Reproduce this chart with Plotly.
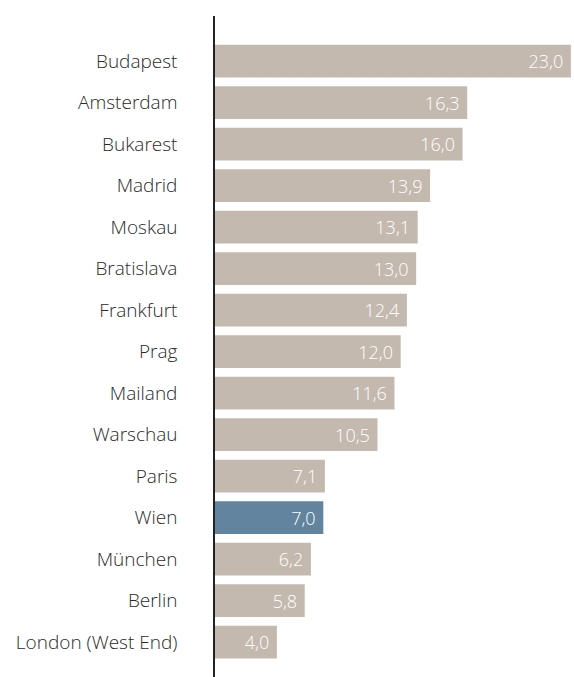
import plotly.graph_objects as go

cities = ["Budapest", "Amsterdam", "Bukarest", "Madrid", "Moskau", "Bratislava",
          "Frankfurt", "Prag", "Mailand", "Warschau", "Paris", "Wien", "München",
          "Berlin", "London (West End)"]
values = [23.0, 16.3, 16.0, 13.9, 13.1, 13.0, 12.4, 12.0, 11.6, 10.5, 7.1, 7.0, 6.2, 5.8, 4.0]
highlight = "Wien"

BEIGE = "#c4b9af"
BLUE = "#62849e"
colors = [BLUE if c == highlight else BEIGE for c in cities]

FONT = "Open Sans"

fig = go.Figure(go.Bar(
    x=values, y=cities, orientation="h",
    marker=dict(color=colors, line=dict(width=0)),
    texttemplate="%{x:.1f}\u00a0", textposition="inside", insidetextanchor="end",
    textfont=dict(color="white", size=18, family=FONT, weight=300),
    cliponaxis=False,
    hoverinfo="skip",
))

fig.update_layout(
    width=574, height=677,
    margin=dict(l=215, r=0, t=16, b=0),
    paper_bgcolor="white", plot_bgcolor="white",
    separators=",.",
    bargap=0.21,
    showlegend=False,
    font=dict(family=FONT, color="#333333", size=16),
    xaxis=dict(visible=False, range=[0, 23.2], fixedrange=True),
    yaxis=dict(
        categoryorder="array", categoryarray=cities,
        range=[14.84, -1.09], fixedrange=True,
        showline=True, linecolor="#222222", linewidth=1.5,
        showgrid=False, zeroline=False, ticks="",
        ticklabelstandoff=32,
        tickfont=dict(size=19, color="#2a2a2a", family=FONT, weight=350),
    ),
)

fig.write_html(
    "out.html",
    config={"displayModeBar": False},
    post_script="document.body.style.margin='0';document.body.style.overflow='hidden';",
)
